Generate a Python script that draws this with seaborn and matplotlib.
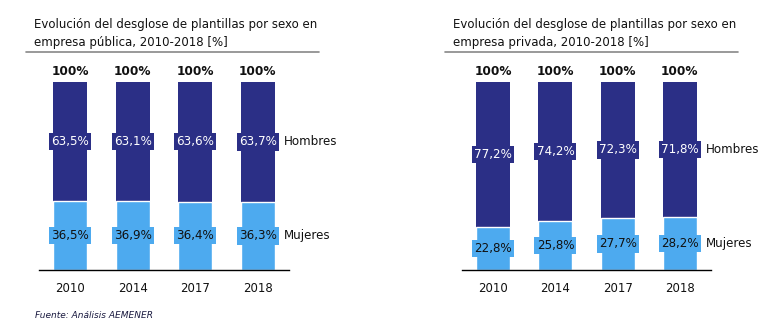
import matplotlib
matplotlib.use("Agg")
import matplotlib.pyplot as plt
import seaborn as sns
import pandas as pd
import numpy as np

sns.set_theme(style="white")
plt.rcParams['font.family'] = ['DejaVu Sans']

years = ["2010", "2014", "2017", "2018"]
pub_mujeres = [36.5, 36.9, 36.4, 36.3]
pub_hombres = [63.5, 63.1, 63.6, 63.7]
priv_mujeres = [22.8, 25.8, 27.7, 28.2]
priv_hombres = [77.2, 74.2, 72.3, 71.8]
titles = ["Evolución del desglose de plantillas por sexo en\nempresa pública, 2010-2018 [%]",
          "Evolución del desglose de plantillas por sexo en\nempresa privada, 2010-2018 [%]"]
source = "Fuente: Análisis AEMENER"

DARK = "#2B2F86"
LIGHT = "#4DAAEF"
W, H = 784, 322

fig = plt.figure(figsize=(W / 100, H / 100), dpi=100)

def fx(px):
    return px / W

def fy(py):
    return 1 - py / H

panels = [
    dict(x0=39, x1=289, m=pub_mujeres, h=pub_hombres, title=titles[0], tx=34, lx0=26, lx1=319),
    dict(x0=462, x1=711, m=priv_mujeres, h=priv_hombres, title=titles[1], tx=453, lx0=445, lx1=738),
]

for p in panels:
    ax = fig.add_axes([fx(p["x0"]), fy(270), fx(p["x1"] - p["x0"]), (270 - 82) / H])
    df = pd.DataFrame({"year": years, "mujeres": p["m"], "hombres": p["h"]})
    df["total"] = df["mujeres"] + df["hombres"]
    sns.barplot(data=df, x="year", y="total", color=DARK, width=0.55, ax=ax,
                saturation=1, edgecolor="none")
    sns.barplot(data=df, x="year", y="mujeres", color=LIGHT, width=0.55, ax=ax,
                saturation=1, edgecolor="white", linewidth=1)
    ax.set_xlim(-0.5, 3.5)
    ax.set_ylim(0, 100)
    ax.set_xlabel("")
    ax.set_ylabel("")
    ax.set_yticks([])
    for s in ["top", "right", "left"]:
        ax.spines[s].set_visible(False)
    ax.spines["bottom"].set_color("black")
    ax.spines["bottom"].set_linewidth(1)
    ax.set_xticks(range(len(years)))
    ax.set_xticklabels(years, fontsize=8.5, color="#111111")
    ax.tick_params(axis="x", which="major", length=0, pad=9)
    ax.set_xticks(np.arange(-0.5, len(years)), minor=True)
    ax.tick_params(axis="x", which="minor", length=5, width=1, color="black", direction="out")

    for i, (m, h) in enumerate(zip(p["m"], p["h"])):
        ax.text(i, m + h + 5.5, f"{m + h:.0f}%", ha="center", va="center",
                fontsize=8.7, fontweight="bold", color="#111111", clip_on=False)
        ax.text(i, m + h / 2, f"{h:.1f}%".replace(".", ","), ha="center", va="center",
                fontsize=8.6, color="white",
                bbox=dict(boxstyle="square,pad=0.18", fc=DARK, ec="none"))
        ax.text(i, m / 2, f"{m:.1f}%".replace(".", ","), ha="center", va="center",
                fontsize=8.6, color="#111111",
                bbox=dict(boxstyle="square,pad=0.18", fc=LIGHT, ec="none"))

    last = len(years) - 1
    ax.text(last + 0.42, p["m"][last] + p["h"][last] / 2, "Hombres", ha="left", va="center",
            fontsize=8.6, color="#111111", clip_on=False)
    ax.text(last + 0.42, p["m"][last] / 2, "Mujeres", ha="left", va="center",
            fontsize=8.6, color="#111111", clip_on=False)

    fig.text(fx(p["tx"]), fy(18), p["title"], ha="left", va="top", fontsize=8.5,
             color="#111111", linespacing=1.5)
    fig.add_artist(plt.Line2D([fx(p["lx0"]), fx(p["lx1"])], [fy(52), fy(52)],
                              color="#888888", linewidth=1.2))

fig.text(fx(35), fy(316), source, ha="left", va="center", fontsize=6.5,
         style="italic", color="#1a1a40")

fig.savefig("out.png", dpi=100)
